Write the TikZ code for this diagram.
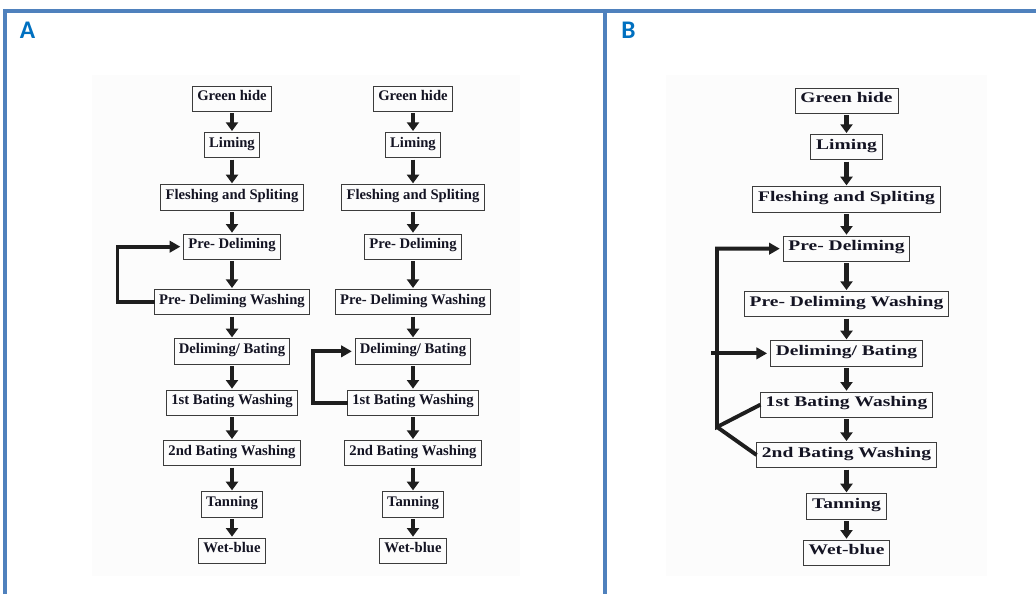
\documentclass[tikz,border=0pt]{standalone}
\usepackage{fontspec}
\setmainfont{Liberation Serif}
\newfontfamily\labelfont{Carlito}
\newfontfamily\widefont{Liberation Serif}[FakeStretch=1.33]
\usetikzlibrary{arrows.meta,positioning,calc}
\definecolor{frameblue}{RGB}{79,129,189}
\definecolor{labelblue}{RGB}{0,112,192}
\definecolor{steptext}{RGB}{20,20,35}
\definecolor{boxgray}{RGB}{60,60,60}
\definecolor{arrowgray}{RGB}{30,30,30}
\definecolor{panelbg}{RGB}{252,252,252}

\begin{document}
\begin{tikzpicture}[x=0.75pt,y=-0.75pt,
    stepA/.style={draw=boxgray,line width=0.7pt,outer sep=0pt,text=steptext,font=\fontsize{11}{13}\selectfont\bfseries,inner xsep=3.5pt,inner ysep=1.5pt,text height=9.5pt,text depth=6.5pt},
    stepB/.style={stepA,font=\widefont\fontsize{11}{13}\selectfont\bfseries,inner xsep=4pt},
    flow/.style={draw=arrowgray,line width=3.5pt,-{Triangle[width=9pt,length=6.5pt]},shorten <=1.5pt,shorten >=1pt},
    loopline/.style={draw=arrowgray,line width=2.9pt},
    loopback/.style={loopline,-{Triangle[width=8.5pt,length=8pt]},shorten >=2.5pt},
    panellabel/.style={font=\labelfont\fontsize{19}{22}\selectfont\bfseries,text=labelblue,anchor=base west,inner sep=0pt}]
    \useasboundingbox (0,0) rectangle (1036,594);
    \fill[panelbg] (92,75) rectangle (520,576);
    \fill[panelbg] (666,75) rectangle (987,576);
    \draw[frameblue,line width=2.4pt] (5,594) -- (5,11) -- (1036,11);
    \draw[frameblue,line width=2.4pt] (605,11) -- (605,594);
    \node[panellabel] (labA) at (19.5,38) {A};
    \node[panellabel] (labB) at (621,38) {B};
    % three columns of steps: a = A left, c = A right, b = B
    \foreach \col/\cx/\cy/\sty in {a/232/86/stepA,c/413/86/stepA,b/846.5/88/stepB}{
      \node[style=\sty,anchor=north] (\col1) at (\cx,\cy) {Green hide};
      \foreach \txt/\gap [count=\i from 2,remember=\i as \j (initially 1)] in {Liming/15.75,{Fleshing and Spliting}/20.25,{Pre- Deliming}/18,{Pre- Deliming Washing}/22.5,{Deliming/ Bating}/18,{1st Bating Washing}/19.5,{2nd Bating Washing}/18.75,Tanning/19.5,Wet-blue/15.75}{
        \node[style=\sty,below=\gap pt of \col\j] (\col\i) {\txt};
        \draw[flow] (\col\j) -- (\col\i);
      }
    }
    % recycling loops
    \draw[loopback] (a5.west) -- ++(-37,0) |- (a4.west);
    \draw[loopback] (c7.west) -- ++(-35,0) |- (c6.west);
    \coordinate (bj) at (717,427);
    \draw[loopback] (b7.west) -- (bj) |- (b4.west);
    \draw[loopline] (bj) -- (b8.west);
    \draw[loopback] ($(bj |- b6.west)+(-6,0)$) -- (b6.west);
  \end{tikzpicture}
\end{document}
